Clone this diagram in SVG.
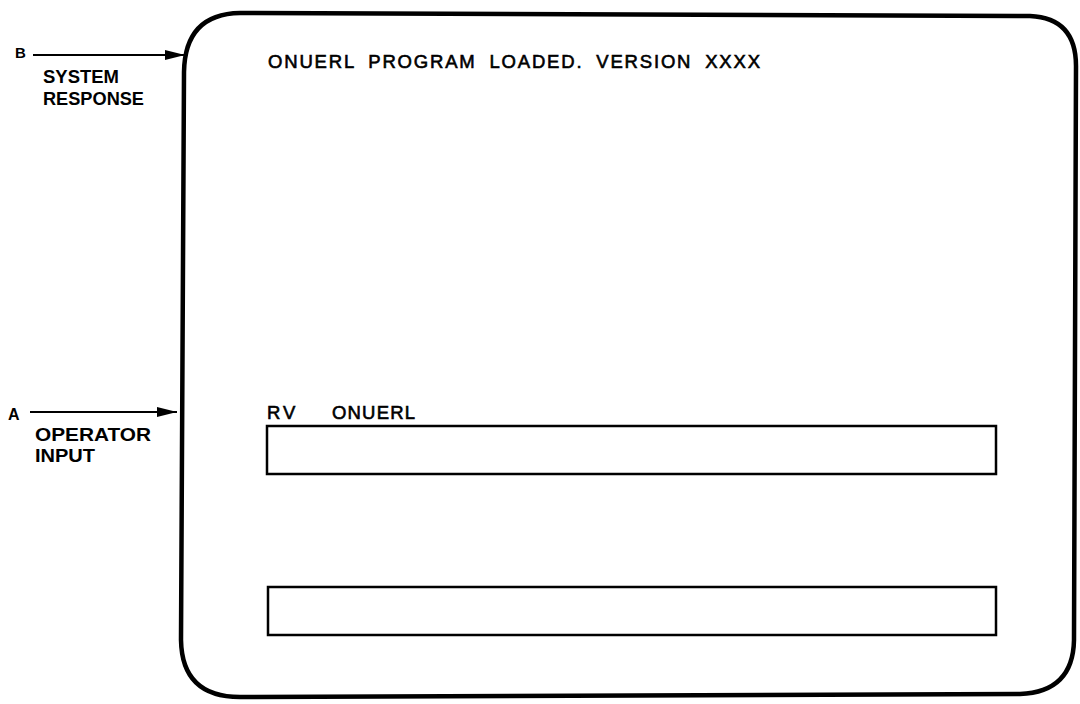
<svg xmlns="http://www.w3.org/2000/svg" width="1080" height="704" viewBox="0 0 1080 704">
<style>
.lbl{font-family:"Liberation Sans",Arial,sans-serif;font-weight:bold;fill:#000}
.scr{font-family:"Liberation Sans",Arial,sans-serif;font-size:18.5px;fill:#000;stroke:#000;stroke-width:0.6}
.box{fill:none;stroke:#000;stroke-width:2.5}
.conn{stroke:#000;stroke-width:2;fill:none}
</style>
<defs>
<marker id="ah" markerUnits="userSpaceOnUse" markerWidth="20" markerHeight="10" refX="20" refY="5" orient="auto">
<path d="M0,0 L20,5 L0,10 Z" fill="#000"/>
</marker>
</defs>
<rect width="1080" height="704" fill="#fff"/>
<g id="screen">
<path d="M184,72 Q185,14 240,13 L1030,16 Q1076,18 1076,66 L1074,640 Q1073,692 1020,694 L240,697 Q182,697 181,640 Z" fill="none" stroke="#000" stroke-width="4.5" stroke-linejoin="round"/>
<text class="scr" x="268" y="68" textLength="492" lengthAdjust="spacing" word-spacing="6">ONUERL PROGRAM LOADED. VERSION XXXX</text>
</g>
<g id="input-line">
<text class="scr" x="267" y="419" letter-spacing="3">RV</text>
<text class="scr" x="332" y="419" textLength="83" lengthAdjust="spacing">ONUERL</text>
<rect class="box" x="267" y="426" width="729" height="48"/>
</g>
<g id="response-box">
<rect class="box" x="268" y="587" width="728" height="48"/>
</g>
<g id="label-b">
<text class="lbl" x="15" y="58" font-size="15">B</text>
<text class="lbl" x="43" y="83" font-size="18" textLength="76" lengthAdjust="spacingAndGlyphs">SYSTEM</text>
<text class="lbl" x="43" y="105" font-size="18" textLength="101" lengthAdjust="spacingAndGlyphs">RESPONSE</text>
</g>
<g id="label-a">
<text class="lbl" x="8" y="420" font-size="16">A</text>
<text class="lbl" x="35" y="441" font-size="18" textLength="116" lengthAdjust="spacingAndGlyphs">OPERATOR</text>
<text class="lbl" x="35" y="462" font-size="18" textLength="60" lengthAdjust="spacingAndGlyphs">INPUT</text>
</g>
<g id="connectors">
<line class="conn" x1="33" y1="55" x2="185" y2="55" marker-end="url(#ah)"/>
<line class="conn" x1="30" y1="412" x2="177" y2="412" marker-end="url(#ah)"/>
</g>
</svg>
